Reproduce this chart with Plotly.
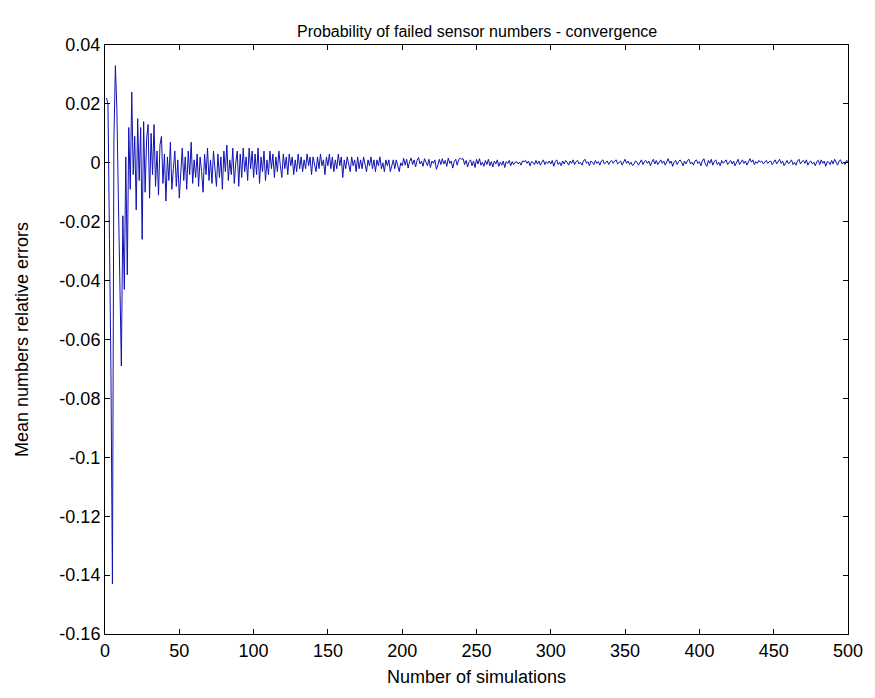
import plotly.graph_objects as go

title_text = "Probability of failed sensor numbers - convergence"
x_label = "Number of simulations"
y_label = "Mean numbers relative errors"

x_ticks = [0, 50, 100, 150, 200, 250, 300, 350, 400, 450, 500]
y_ticks = [0.04, 0.02, 0, -0.02, -0.04, -0.06, -0.08, -0.1, -0.12, -0.14, -0.16]
y_tick_labels = ["0.04", "0.02", "0", "-0.02", "-0.04", "-0.06", "-0.08", "-0.1", "-0.12", "-0.14", "-0.16"]

# simulations 1..40
err_early = [0.022, 0.020, -0.026, -0.071, -0.143, 0.008, 0.033, 0.018, -0.012, -0.044,
             -0.069, -0.018, -0.043, 0.002, -0.038, 0.012, -0.009, 0.024, -0.004, 0.009,
             -0.016, 0.015, -0.006, 0.012, -0.026, 0.014, -0.010, 0.008, 0.013, -0.012,
             0.010, -0.004, 0.013, -0.008, 0.004, -0.011, 0.006, 0.009, -0.007, 0.003]
# simulations 41..200
err_mid = [-0.013, 0.002, -0.006, 0.007, -0.009, -0.002, 0.004, -0.008, 0.001, -0.012,
           -0.003, 0.005, -0.006, 0.002, -0.009, 0.004, -0.004, 0.007, -0.007, 0.001,
           -0.005, 0.003, -0.008, 0.002, -0.003, -0.010, 0.003, -0.004, 0.005, -0.006,
           0.001, -0.007, 0.004, -0.002, -0.008, 0.003, -0.005, 0.002, -0.009, 0.004,
           -0.003, 0.006, -0.006, 0.001, -0.004, 0.005, -0.007, 0.000, 0.004, -0.008,
           0.003, -0.005, 0.005, -0.003, 0.002, -0.006, 0.005, -0.002, 0.004, -0.005,
           0.003, -0.004, 0.005, -0.007, 0.002, -0.003, 0.004, -0.006, 0.001, -0.004,
           0.004, -0.002, 0.003, -0.005, 0.002, -0.003, 0.004, -0.001, -0.005, 0.003,
           -0.002, 0.002, -0.004, 0.003, -0.001, 0.002, -0.004, 0.001, -0.003, 0.003,
           -0.002, 0.002, -0.003, 0.001, -0.002, 0.003, -0.001, 0.002, -0.004, 0.002,
           0.000, -0.003, 0.002, -0.002, 0.003, -0.001, 0.001, -0.004, 0.002, -0.001,
           0.003, -0.002, 0.002, -0.003, 0.001, -0.002, 0.003, -0.001, 0.002, -0.005,
           0.001, -0.002, 0.002, -0.001, -0.003, 0.002, -0.001, 0.001, -0.003, 0.002,
           -0.002, 0.001, -0.002, 0.002, 0.000, -0.003, 0.001, -0.001, 0.002, -0.002,
           0.001, -0.003, 0.001, -0.001, 0.002, -0.002, 0.000, -0.003, 0.001, -0.001,
           0.001, -0.003, -0.001, 0.001, -0.002, 0.001, -0.001, -0.003, 0.000, -0.001]
# simulations 201..500
err_late = [0.0015, -0.0008, 0.0012, -0.0018, 0.0004, 0.0016, -0.0006, 0.0010, -0.0014, 0.0008,
            0.0018, -0.0004, 0.0006, -0.0012, 0.0014, 0.0002, -0.0010, 0.0012, -0.0016, 0.0006,
            -0.0002, 0.0010, -0.0022, -0.0008, 0.0012, -0.0006, 0.0014, -0.0004, 0.0008, -0.0012,
            0.0016, -0.0002, 0.0006, -0.0018, 0.0004, 0.0012, -0.0008, 0.0010, 0.0016, 0.0012,
            0.0014, -0.0006, 0.0008, -0.0014, 0.0004, 0.0010, -0.0010, 0.0006, -0.0016, 0.0012,
            -0.0004, 0.0014, -0.0008, 0.0002, -0.0012, 0.0008, -0.0006, 0.0012, -0.0010, 0.0004,
            -0.0014, 0.0006, -0.0004, 0.0010, -0.0012, 0.0002, -0.0008, 0.0006, -0.0016, 0.0004,
            -0.0002, 0.0008, -0.0010, 0.0004, -0.0006, 0.0002, 0.0004, -0.0004, 0.0002, -0.0008,
            0.0006, 0.0004, 0.0008, -0.0002, 0.0006, -0.0010, 0.0004, 0.0002, -0.0006, 0.0008,
            -0.0004, 0.0006, -0.0008, 0.0002, 0.0010, -0.0006, 0.0004, -0.0002, 0.0006, -0.0004,
            0.0008, -0.0012, 0.0004, 0.0010, -0.0006, 0.0002, -0.0010, 0.0006, -0.0004, 0.0008,
            0.0002, -0.0008, 0.0006, -0.0002, 0.0010, -0.0006, 0.0004, 0.0008, -0.0004, 0.0002,
            -0.0008, 0.0006, 0.0012, -0.0002, 0.0004, -0.0010, 0.0006, 0.0002, -0.0006, 0.0008,
            -0.0002, 0.0004, -0.0008, 0.0006, 0.0010, -0.0004, 0.0002, 0.0006, -0.0006, 0.0004,
            0.0008, -0.0002, 0.0006, 0.0010, -0.0004, 0.0002, 0.0006, -0.0008, 0.0004, 0.0012,
            -0.0002, 0.0006, -0.0006, 0.0002, -0.0010, -0.0004, 0.0006, 0.0002, -0.0008, 0.0004,
            0.0010, -0.0006, 0.0004, 0.0008, -0.0002, 0.0006, -0.0010, 0.0002, 0.0012, -0.0004,
            0.0008, -0.0006, 0.0002, 0.0010, -0.0002, 0.0006, -0.0008, 0.0004, 0.0014, -0.0002,
            0.0006, -0.0012, 0.0002, 0.0008, -0.0006, 0.0004, 0.0010, 0.0002, -0.0010, 0.0006,
            -0.0004, 0.0008, 0.0012, -0.0004, 0.0002, -0.0008, 0.0006, 0.0010, -0.0002, 0.0004,
            -0.0010, 0.0006, 0.0014, -0.0004, -0.0012, 0.0008, -0.0002, 0.0012, -0.0008, 0.0004,
            0.0010, -0.0006, 0.0002, -0.0010, 0.0008, -0.0002, 0.0004, 0.0010, -0.0006, 0.0002,
            0.0008, -0.0004, 0.0006, -0.0010, 0.0002, 0.0012, -0.0006, 0.0004, 0.0010, -0.0002,
            0.0006, -0.0008, 0.0004, 0.0014, 0.0002, 0.0010, -0.0006, 0.0004, -0.0002, 0.0008,
            0.0002, 0.0006, -0.0004, 0.0002, 0.0008, -0.0002, 0.0004, 0.0006, -0.0006, 0.0002,
            0.0010, -0.0004, 0.0004, 0.0012, -0.0002, 0.0006, -0.0010, 0.0002, 0.0008, -0.0004,
            0.0004, 0.0010, -0.0006, 0.0002, -0.0008, 0.0006, 0.0012, -0.0004, 0.0004, 0.0008,
            -0.0002, 0.0010, -0.0008, 0.0002, 0.0006, -0.0004, 0.0002, -0.0010, 0.0004, 0.0008,
            -0.0006, 0.0010, -0.0002, 0.0006, -0.0012, 0.0004, 0.0002, -0.0006, 0.0008, -0.0004,
            0.0012, 0.0002, -0.0008, 0.0006, 0.0010, -0.0004, 0.0002, -0.0006, 0.0008, 0.0004]

errors = err_early + err_mid + err_late
simulations = list(range(1, len(errors) + 1))

font_family = "Liberation Sans Narrow, Liberation Sans, Arial, sans-serif"

# page has an 8px body margin; figure is sized to fit inside the window
W, H = 867, 682
L, R, T, B = 97, 22, 37, 56
pw, ph = W - L - R, H - T - B

fig = go.Figure()
fig.add_trace(go.Scatter(x=simulations, y=errors, mode="lines",
                         line=dict(color="#1010b4", width=1)))

axis_common = dict(showgrid=False, zeroline=False, showline=True, linecolor="black",
                   linewidth=1, mirror="ticks", ticks="inside", ticklen=5,
                   tickcolor="black", tickfont=dict(family=font_family, size=18, color="black"))

fig.update_layout(
    width=W, height=H,
    paper_bgcolor="white", plot_bgcolor="white",
    margin=dict(l=L, r=R, t=T, b=B),
    showlegend=False,
    xaxis=dict(range=[0, 500], tickvals=x_ticks, ticktext=[str(v) for v in x_ticks],
               **axis_common),
    yaxis=dict(range=[-0.16, 0.04], tickvals=y_ticks, ticktext=y_tick_labels,
               **axis_common),
    annotations=[
        dict(text=title_text, xref="paper", yref="paper", x=0.5, y=1 + 13 / ph,
             xanchor="center", yanchor="middle", showarrow=False,
             font=dict(family=font_family, size=16, color="black")),
        dict(text=x_label, xref="paper", yref="paper", x=0.5, y=-43 / ph,
             xanchor="center", yanchor="middle", showarrow=False,
             font=dict(family=font_family, size=18, color="black")),
        dict(text=y_label, xref="paper", yref="paper", x=-84 / pw, y=0.5,
             xanchor="center", yanchor="middle", showarrow=False, textangle=-90,
             font=dict(family=font_family, size=18, color="black")),
    ],
)

fig.write_html("out.html")
